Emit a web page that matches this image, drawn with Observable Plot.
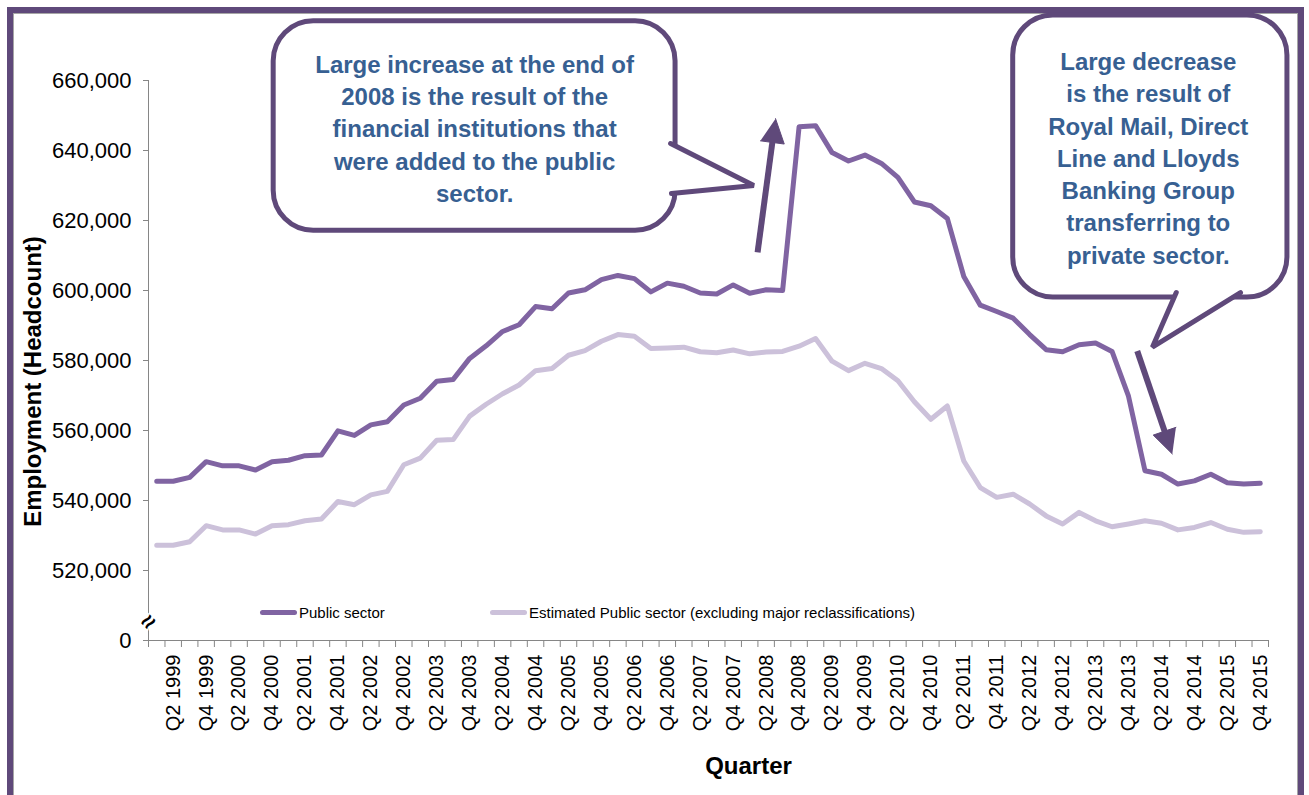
<!DOCTYPE html>
<html>
<head>
<meta charset="utf-8">
<script src="https://cdn.jsdelivr.net/npm/d3@7"></script>
<script src="https://cdn.jsdelivr.net/npm/@observablehq/plot@0.6"></script>
<style>
  html, body { margin: 0; padding: 0; background: #fff; width: 1309px; height: 795px; overflow: hidden; }
  #wrap { position: relative; width: 1309px; height: 795px; font-family: "Liberation Sans", Arial, sans-serif; }
  #frame { position: absolute; left: 7px; top: 7px; width: 1297px; height: 900px; box-sizing: border-box;
           border: 6px solid #5F497A; box-shadow: inset 0 0 0 1px #a6a6a6; }
  #chart { position: absolute; left: 0; top: 0; }
  .leg { position: absolute; top: 604px; font-size: 15px; color: #000; white-space: nowrap; display: flex; align-items: center; }
  .sw { display: inline-block; width: 37px; height: 5px; border-radius: 3px; margin-right: 2px; }
</style>
</head>
<body>
<div id="wrap">
  <div id="frame"></div>
  <div id="chart"></div>
</div>
<script>
// ---------- data ----------
const quarters = [
  "Q1 1999","Q2 1999","Q3 1999","Q4 1999",
  "Q1 2000","Q2 2000","Q3 2000","Q4 2000",
  "Q1 2001","Q2 2001","Q3 2001","Q4 2001",
  "Q1 2002","Q2 2002","Q3 2002","Q4 2002",
  "Q1 2003","Q2 2003","Q3 2003","Q4 2003",
  "Q1 2004","Q2 2004","Q3 2004","Q4 2004",
  "Q1 2005","Q2 2005","Q3 2005","Q4 2005",
  "Q1 2006","Q2 2006","Q3 2006","Q4 2006",
  "Q1 2007","Q2 2007","Q3 2007","Q4 2007",
  "Q1 2008","Q2 2008","Q3 2008","Q4 2008",
  "Q1 2009","Q2 2009","Q3 2009","Q4 2009",
  "Q1 2010","Q2 2010","Q3 2010","Q4 2010",
  "Q1 2011","Q2 2011","Q3 2011","Q4 2011",
  "Q1 2012","Q2 2012","Q3 2012","Q4 2012",
  "Q1 2013","Q2 2013","Q3 2013","Q4 2013",
  "Q1 2014","Q2 2014","Q3 2014","Q4 2014",
  "Q1 2015","Q2 2015","Q3 2015","Q4 2015"
];

const publicSector = [
  545500, 545500, 546600, 551100,
  549900, 549900, 548700, 551100,
  551500, 552800, 553000, 559900,
  558600, 561600, 562500, 567300,
  569200, 574100, 574600, 580600,
  584200, 588300, 590200, 595400,
  594800, 599300, 600200, 603100,
  604300, 603400, 599600, 602100,
  601200, 599300, 599000, 601600,
  599200, 600200, 600000, 646800,
  647100, 639400, 637000, 638700,
  636300, 632300, 625300, 624200,
  620600, 604000, 595800, 594000,
  592100, 587400, 583100, 582500,
  584500, 585000, 582600, 569800,
  548500, 547500, 544700, 545600,
  547500, 545100, 544700, 544900
];

const estimatedPublicSector = [
  527200, 527200, 528200, 532800,
  531600, 531600, 530400, 532800,
  533100, 534200, 534700, 539700,
  538800, 541600, 542600, 550200,
  552100, 557200, 557400, 564100,
  567500, 570500, 573000, 577100,
  577700, 581500, 582800, 585500,
  587400, 586900, 583400, 583600,
  583800, 582500, 582200, 583000,
  581900, 582400, 582600, 584100,
  586300, 579800, 577100, 579200,
  577700, 574200, 568200, 563200,
  567000, 551300, 543700, 540900,
  541800, 539000, 535600, 533300,
  536600, 534200, 532500, 533300,
  534200, 533500, 531600, 532300,
  533700, 531800, 530900, 531100
];

const seriesNames = ["Public sector", "Estimated Public sector (excluding major reclassifications)"];
const seriesColors = ["#8064A2", "#CCC1DA"];

const yTicks = [500000, 520000, 540000, 560000, 580000, 600000, 620000, 640000, 660000];
const xLabelIndex = quarters.map((q, i) => i).filter(i => i % 2 === 1);   // Q2 / Q4 labels
const xBoundaries = d3.range(quarters.length + 1).map(i => i - 0.5);

// annotations (in data coordinates: quarter index, headcount)
const callouts = [
  {x1: 7.1, x2: 31.5, y1: 617100, y2: 676900,
   tx: 19.3, ty: 646700,
   text: "Large increase at the end of\n2008 is the result of the\nfinancial institutions that\nwere added to the public\nsector."},
  {x1: 52.0, x2: 68.65, y1: 598000, y2: 678600,
   tx: 60.2, ty: 638300,
   text: "Large decrease\nis the result of\nRoyal Mail, Direct\nLine and Lloyds\nBanking Group\ntransferring to\nprivate sector."}
];
const tails = [
  [{i: 31.2, v: 642000}, {i: 36.25, v: 630000}, {i: 31.25, v: 627700}],
  [{i: 61.9, v: 599400}, {i: 60.45, v: 583800}, {i: 65.8, v: 599400}]
];
const arrows = [
  {i1: 36.48, v1: 610900, i2: 37.57, v2: 649100},
  {i1: 59.53, v1: 582700, i2: 61.66, v2: 553300}
];

// ---------- layout ----------
const W = 1309, H = 795;
const mL = 148, mR = 41, mT = 80, mB = 155;
const xDomain = [-0.5, quarters.length - 0.5];
const yDomain = [500000, 660000];
const plotW = W - mL - mR, plotH = H - mT - mB;
const toPx = (i, v) => [mL + (i - xDomain[0]) / (xDomain[1] - xDomain[0]) * plotW,
                        mT + (yDomain[1] - v) / (yDomain[1] - yDomain[0]) * plotH];
const toData = (px, py) => [xDomain[0] + (px - mL) / plotW * (xDomain[1] - xDomain[0]),
                            yDomain[1] - (py - mT) / plotH * (yDomain[1] - yDomain[0])];

function arrowParts(a, len, half) {
  const [x1, y1] = toPx(a.i1, a.v1), [x2, y2] = toPx(a.i2, a.v2);
  const d = Math.hypot(x2 - x1, y2 - y1), ux = (x2 - x1) / d, uy = (y2 - y1) / d;
  const bx = x2 - ux * len, by = y2 - uy * len;
  const head = [[x2, y2], [bx - uy * half, by + ux * half], [bx + uy * half, by - ux * half]]
    .map(p => toData(p[0], p[1]));
  const e = toData(x2 - ux * (len - 3), y2 - uy * (len - 3));
  return {head, shaft: {i1: a.i1, v1: a.v1, i2: e[0], v2: e[1]}};
}
const arrowGeo = arrows.map(a => arrowParts(a, 24, 12));

const rows = [];
seriesNames.forEach((s, k) => {
  const vals = k === 0 ? publicSector : estimatedPublicSector;
  vals.forEach((v, i) => rows.push({series: s, i, v}));
});

const gray = "#868686";
const boxColor = "#5F497A";
const noteColor = "#376092";
const tickLen = 7 * (yDomain[1] - yDomain[0]) / plotH;

const marks = [
  // axes lines
  Plot.ruleX([xDomain[0]], {stroke: gray, strokeWidth: 1}),
  Plot.ruleY([yDomain[0]], {stroke: gray, strokeWidth: 1}),
  // x tick marks between categories
  Plot.ruleX(xBoundaries, {y1: yDomain[0], y2: yDomain[0] - tickLen, stroke: gray}),
  // y axis
  Plot.axisY(yTicks, {
    tickSize: 5, tickPadding: 12, fontSize: 22, stroke: gray, fill: "#000", label: null,
    tickFormat: d => d === 500000 ? "0" : d3.format(",")(d)
  }),
  // x labels
  Plot.text(xLabelIndex, {
    x: d => d, y: yDomain[0], text: d => quarters[d], rotate: -90,
    textAnchor: "end", lineAnchor: "middle", dy: 14, fontSize: 20, fill: "#000"
  }),
  // axis break symbol
  Plot.text(["≈"], {
    x: xDomain[0], y: 505300, text: d => d, rotate: -45, fontSize: 24, fontWeight: "bold",
    fill: "#000", stroke: "white", strokeWidth: 3, paintOrder: "stroke"
  }),
  // axis titles
  Plot.text(["Employment (Headcount)"], {
    frameAnchor: "left", text: d => d, rotate: -90, dx: -115, dy: 21,
    textAnchor: "middle", lineAnchor: "middle",
    fontSize: 24, fontWeight: "bold", fill: "#000"
  }),
  Plot.text(["Quarter"], {
    frameAnchor: "bottom", text: d => d, dx: 40, dy: 126,
    textAnchor: "middle", lineAnchor: "middle",
    fontSize: 24, fontWeight: "bold", fill: "#000"
  }),
  // data lines
  Plot.line(rows, {
    x: "i", y: "v", z: "series",
    stroke: d => seriesColors[seriesNames.indexOf(d.series)],
    strokeWidth: 5, strokeLinejoin: "round", strokeLinecap: "round"
  }),
  // callouts
  Plot.rect(callouts, {
    x1: "x1", x2: "x2", y1: "y1", y2: "y2", rx: 40,
    fill: "white", stroke: boxColor, strokeWidth: 5
  }),
  ...tails.map(t => Plot.line(t, {
    x: "i", y: "v", fill: "white", stroke: boxColor, strokeWidth: 5, strokeLinejoin: "miter"
  })),
  Plot.text(callouts, {
    x: "tx", y: "ty", text: "text", lineHeight: 1.344, fontSize: 24, fontWeight: "bold",
    fill: noteColor, textAnchor: "middle", lineAnchor: "middle"
  }),
  // arrows
  Plot.link(arrowGeo.map(a => a.shaft), {
    x1: "i1", y1: "v1", x2: "i2", y2: "v2", stroke: boxColor, strokeWidth: 6
  }),
  ...arrowGeo.map(a => Plot.line(a.head, {
    x: d => d[0], y: d => d[1], fill: boxColor, stroke: boxColor, strokeWidth: 1
  }))
];

const chart = Plot.plot({
  width: W, height: H,
  marginLeft: mL, marginRight: mR, marginTop: mT, marginBottom: mB,
  x: {type: "linear", domain: xDomain, axis: null},
  y: {type: "linear", domain: yDomain, axis: null},
  style: {fontFamily: "'Liberation Sans', Arial, sans-serif", background: "transparent", overflow: "visible"},
  marks
});
document.getElementById("chart").appendChild(chart);

// legend (inside the plot area, as in the original)
const legendLeft = [260, 490];
seriesNames.forEach((s, k) => {
  const div = document.createElement("div");
  div.className = "leg";
  div.style.left = legendLeft[k] + "px";
  div.innerHTML = `<span class="sw" style="background:${seriesColors[k]}"></span><span>${s}</span>`;
  document.getElementById("wrap").appendChild(div);
});
</script>
</body>
</html>
